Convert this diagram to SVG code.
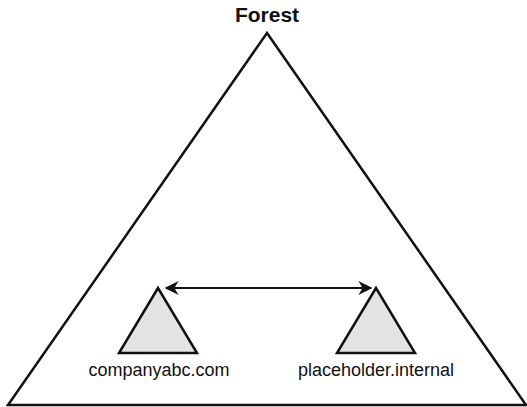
<svg xmlns="http://www.w3.org/2000/svg" width="527" height="407" viewBox="0 0 527 407">
<style>
.tri{stroke:#111;stroke-width:2.5;stroke-linejoin:miter}
.lbl{font-family:"Liberation Sans",Arial,sans-serif;font-size:18px;fill:#111;text-anchor:middle}
</style>
<defs>
<marker id="ah" viewBox="0 0 10 10" refX="9" refY="5" markerWidth="7" markerHeight="7" orient="auto-start-reverse" markerUnits="strokeWidth">
<path d="M0,0 L10,5 L0,10 L3,5 Z" fill="#111"/>
</marker>
</defs>
<rect width="527" height="407" fill="#fff"/>
<g id="forest">
<polygon class="tri" points="267,33 8,405 526,405" fill="none"/>
<text x="267" y="22" class="lbl" style="font-weight:bold;font-size:21px">Forest</text>
</g>
<g id="companyabc">
<polygon class="tri" points="158,288 119,353 197,353" fill="#e3e3e3"/>
<text x="159" y="376" class="lbl">companyabc.com</text>
</g>
<g id="placeholder">
<polygon class="tri" points="376,288 337,353 415,353" fill="#e3e3e3"/>
<text x="376" y="376" class="lbl">placeholder.internal</text>
</g>
<g id="connectors">
<line x1="166" y1="288" x2="371" y2="288" stroke="#111" stroke-width="2" marker-start="url(#ah)" marker-end="url(#ah)"/>
</g>
</svg>
